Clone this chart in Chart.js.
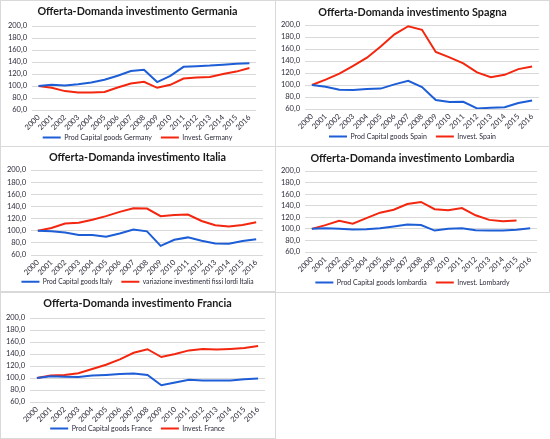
<!DOCTYPE html>
<html>
<head>
<meta charset="utf-8">
<script src="https://cdn.jsdelivr.net/npm/chart.js@4.4.1/dist/chart.umd.min.js"></script>
<style>
  body { margin: 0; background: #fff; width: 550px; height: 439px; overflow: hidden; position: relative; }
  .panel { position: absolute; box-sizing: border-box; border: 1px solid #d9d9d9; }
  .holder { position: absolute; width: 275px; }
</style>
</head>
<body>
<div class="panel" style="left:0;top:0;width:276px;height:147px"></div>
<div class="panel" style="left:275px;top:0;width:275px;height:147px"></div>
<div class="panel" style="left:0;top:146px;width:276px;height:147px"></div>
<div class="panel" style="left:275px;top:146px;width:275px;height:147px"></div>
<div class="panel" style="left:0;top:291px;width:276px;height:148px"></div>
<script>
// categories and axis ticks
const years = ['2000', '2001', '2002', '2003', '2004', '2005', '2006', '2007', '2008',
               '2009', '2010', '2011', '2012', '2013', '2014', '2015', '2016'];
const yTicks = [60, 80, 100, 120, 140, 160, 180, 200];

// index 2000 = 100
const prodGermany   = [100, 102, 101, 103, 106, 110.5, 117, 125, 127, 106.5, 117, 132, 133, 134, 135.5, 137, 138];
const investGermany = [100, 97, 91.5, 89, 89, 90, 97.5, 104, 107, 97, 102, 112.5, 114, 115, 120, 124, 130];

const prodSpain   = [100, 97, 92, 91.5, 93.5, 94, 101, 107, 96.5, 75, 71.5, 72, 61, 62, 63, 70, 74];
const investSpain = [100, 109, 119, 132, 145.5, 164, 184.5, 198, 192, 155, 146, 136, 121, 113, 117, 126.5, 131];

const prodItaly   = [100, 99, 97, 93, 93, 90, 95.5, 102, 99, 75, 85, 89, 83.5, 79, 78.5, 83, 86];
const investItaly = [100, 104.5, 112, 113, 118, 124, 131, 137, 136.5, 124, 126, 126.5, 116, 109, 107, 109.5, 114];

const prodLombardia   = [100, 101, 100, 99, 99.5, 101, 104, 107.5, 106.5, 97, 100, 101, 97.5, 97, 97, 98.5, 101];
const investLombardia = [100, 106.5, 114, 109, 118.5, 128, 133, 143, 146.5, 134, 132, 136, 123.5, 115.5, 113, 114.5, null];

const prodFrance   = [100, 103, 102, 101.5, 104, 105, 106.5, 107.5, 105, 88, 92.5, 97, 96, 96, 96, 98, 99];
const investFrance = [100, 104, 105, 108, 115, 122, 131, 142, 148, 135, 140, 146, 148.5, 147.5, 148.5, 150, 153.5];

const BLUE = '#1d5ed6';
const RED = '#f3260f';
const TEXT = '#2b2b3a';
const FONT = 'Lato, "Liberation Sans", sans-serif';

// the x axis box is kept short so the legend sits low; let its rotated
// labels draw past the box instead of being clipped to it
const unclipYears = {
  id: 'unclipYears',
  beforeDraw(chart) {
    chart.scales.x.bottom = chart.height;
  }
};

// one small chart per panel; box = plot area inside the panel, in px
function drawPanel(p) {
  const legendFont = p.legendFont || 7;
  const legendPad = 9;
  const W = 275;
  const H = Math.round(p.box.legend + 10 + legendFont / 2);
  const legendTop = H - (legendFont + legendPad + 10);
  const titleSize = 10.8;
  const titleLine = titleSize * 1.2;

  const holder = document.createElement('div');
  holder.className = 'holder';
  holder.style.left = p.x + 'px';
  holder.style.top = p.y + 'px';
  holder.style.height = H + 'px';
  const canvas = document.createElement('canvas');
  canvas.width = W;
  canvas.height = H;
  canvas.style.width = W + 'px';
  canvas.style.height = H + 'px';
  holder.appendChild(canvas);
  document.body.appendChild(holder);

  new Chart(canvas, {
    type: 'line',
    data: {
      labels: years,
      datasets: [
        { label: p.labels[0], data: p.series[0], borderColor: BLUE, backgroundColor: BLUE },
        { label: p.labels[1], data: p.series[1], borderColor: RED, backgroundColor: RED }
      ]
    },
    plugins: [unclipYears],
    options: {
      responsive: false,
      animation: false,
      elements: {
        line: { borderWidth: 2, tension: 0 },
        // the legend takes its line width from the point style
        point: { radius: 0, hoverRadius: 0, borderWidth: 2 }
      },
      layout: { padding: 0 },
      scales: {
        x: {
          offset: true,
          grid: { display: false, drawTicks: false },
          border: { display: false },
          ticks: {
            autoSkip: false,
            minRotation: 45,
            maxRotation: 45,
            padding: 3,
            color: TEXT,
            font: { family: FONT, size: 7.6 }
          },
          afterFit: scale => { scale.height = legendTop - p.box.b; }
        },
        y: {
          min: yTicks[0],
          max: yTicks[yTicks.length - 1],
          grid: { color: '#d9d9d9', drawTicks: false },
          border: { display: false },
          ticks: {
            autoSkip: false,
            stepSize: yTicks[1] - yTicks[0],
            padding: 5,
            color: TEXT,
            font: { family: FONT, size: 7.5 },
            callback: v => v.toFixed(1).replace('.', ',')
          },
          afterFit: scale => { scale.width = p.box.l; }
        },
        // empty right axis, only keeps the white margin right of the plot
        spacer: {
          position: 'right',
          grid: { display: false, drawTicks: false },
          border: { display: false },
          ticks: { display: false },
          afterFit: scale => { scale.width = W - p.box.r; }
        }
      },
      plugins: {
        title: {
          display: true,
          text: p.title,
          color: '#1a1a1a',
          font: { family: FONT, size: titleSize, weight: 'bold', lineHeight: 1.2 },
          padding: { top: p.box.title - titleLine / 2, bottom: p.box.t - p.box.title - titleLine / 2 }
        },
        legend: {
          position: 'bottom',
          labels: {
            usePointStyle: true,
            pointStyle: 'line',
            pointStyleWidth: 18,
            padding: legendPad,
            color: TEXT,
            font: { family: FONT, size: legendFont }
          }
        },
        tooltip: { enabled: false }
      }
    }
  });
}

drawPanel({
  x: 0, y: 0,
  title: 'Offerta-Domanda investimento Germania',
  labels: ['Prod Capital goods Germany', 'Invest. Germany'],
  series: [prodGermany, investGermany],
  box: { l: 32, r: 256, t: 26, b: 110, title: 12, legend: 137 }
});
drawPanel({
  x: 275, y: 0,
  title: 'Offerta-Domanda investimento Spagna',
  labels: ['Prod Capital goods Spain', 'Invest. Spain'],
  series: [prodSpain, investSpain],
  box: { l: 30, r: 264, t: 25, b: 109, title: 13, legend: 136 }
});
drawPanel({
  x: 0, y: 147,
  title: 'Offerta-Domanda investimento Italia',
  labels: ['Prod Capital goods Italy', 'variazione investimenti fissi lordi Italia'],
  series: [prodItaly, investItaly],
  legendFont: 6.7,
  box: { l: 31, r: 263, t: 23, b: 108, title: 11, legend: 135 }
});
drawPanel({
  x: 275, y: 147,
  title: 'Offerta-Domanda investimento Lombardia',
  labels: ['Prod Capital goods lombardia', 'Invest. Lombardy'],
  series: [prodLombardia, investLombardia],
  box: { l: 30, r: 262, t: 24, b: 105, title: 12, legend: 135 }
});
drawPanel({
  x: 0, y: 292,
  title: 'Offerta-Domanda investimento Francia',
  labels: ['Prod Capital goods France', 'Invest. France'],
  series: [prodFrance, investFrance],
  box: { l: 30, r: 265, t: 26, b: 110, title: 12, legend: 136 }
});
</script>
</body>
</html>
